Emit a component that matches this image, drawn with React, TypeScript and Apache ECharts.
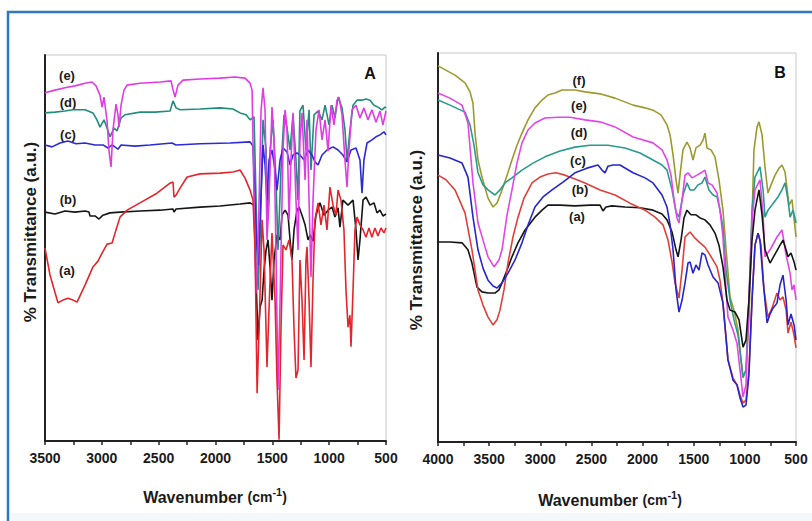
import React, { useEffect, useRef } from "react";
import * as echarts from "echarts";

type P = [number, number];

// ---------- Panel A (3500–500 cm-1) ----------
const ticksA = [3500, 3000, 2500, 2000, 1500, 1000, 500];
const labelsA = ["(a)", "(b)", "(c)", "(d)", "(e)"];

const A_a: P[] = [
  [3500, 50.0], [3456, 43.0], [3386, 35.8], [3342, 36.5], [3298, 37.0], [3254, 36.5], [3218, 36.0],
  [3148, 40.4], [3078, 45.1], [3034, 46.6], [2998, 48.7], [2954, 51.0], [2910, 51.3], [2875, 54.7],
  [2840, 58.0], [2778, 59.8], [2664, 61.7], [2515, 64.2], [2400, 66.8], [2374, 67.1], [2365, 63.2],
  [2347, 63.7], [2312, 65.5], [2250, 68.4], [2136, 69.2], [1960, 69.4], [1846, 69.7], [1784, 70.2],
  [1740, 68.1], [1696, 65.0], [1670, 62.4], [1652, 49.5], [1634, 12.4], [1617, 28.8], [1590, 57.3],
  [1573, 49.5], [1547, 19.2], [1520, 41.7], [1503, 53.9], [1476, 36.5], [1459, 15.8], [1441, 0.3],
  [1424, 28.8], [1406, 50.8], [1380, 49.5], [1353, 52.1], [1327, 46.9], [1309, 28.8], [1292, 16.3],
  [1274, 18.4], [1257, 46.9], [1239, 36.5], [1221, 21.0], [1204, 46.9], [1195, 50.3], [1177, 36.5],
  [1160, 19.2], [1142, 41.7], [1125, 57.3], [1098, 61.7], [1072, 56.0], [1045, 61.1], [1019, 54.7],
  [993, 65.8], [966, 61.1], [940, 58.5], [922, 65.0], [896, 62.4], [870, 54.7], [852, 39.1],
  [834, 29.5], [817, 32.6], [808, 24.4], [790, 39.1], [773, 54.7], [755, 58.0], [729, 56.0],
  [702, 54.7], [676, 52.8], [650, 55.2], [624, 52.8], [597, 55.2], [571, 53.1], [544, 55.2],
  [518, 53.9], [500, 55.2],
];

const A_b: P[] = [
  [3500, 59.3], [3412, 58.8], [3324, 59.6], [3236, 59.3], [3148, 59.6], [3113, 59.3], [3104, 58.3],
  [3060, 58.3], [3025, 57.5], [2990, 58.5], [2928, 59.1], [2840, 59.3], [2664, 59.6], [2488, 59.8],
  [2374, 60.1], [2365, 59.3], [2347, 60.1], [2136, 60.6], [1960, 60.9], [1784, 61.4], [1696, 61.7],
  [1661, 61.1], [1643, 41.7], [1626, 26.2], [1608, 34.7], [1590, 36.5], [1573, 44.3], [1555, 49.5],
  [1538, 52.1], [1520, 45.1], [1503, 36.5], [1485, 46.9], [1459, 53.4], [1432, 52.1], [1415, 58.5],
  [1388, 59.8], [1362, 58.5], [1344, 52.1], [1327, 46.9], [1309, 54.7], [1283, 59.8], [1265, 60.6],
  [1239, 58.5], [1212, 56.0], [1186, 52.1], [1168, 53.4], [1142, 51.8], [1116, 58.5], [1081, 61.7],
  [1045, 58.5], [1010, 59.8], [975, 60.6], [949, 58.0], [922, 60.4], [905, 55.4], [879, 62.4],
  [834, 61.1], [790, 62.4], [764, 54.7], [746, 46.9], [729, 52.1], [702, 62.4], [676, 63.2],
  [641, 61.1], [606, 61.7], [579, 59.1], [553, 59.8], [527, 58.3], [500, 58.8],
];

const A_c: P[] = [
  [3500, 76.7], [3438, 76.2], [3368, 77.2], [3298, 77.7], [3227, 77.0], [3148, 77.2], [3060, 76.7],
  [2990, 76.7], [2946, 75.9], [2910, 76.7], [2858, 75.6], [2831, 76.7], [2708, 76.4], [2576, 76.7],
  [2383, 77.2], [2347, 76.7], [2136, 77.0], [1872, 77.2], [1696, 77.5], [1670, 76.4], [1643, 54.7],
  [1626, 45.6], [1608, 57.3], [1582, 76.7], [1564, 71.5], [1547, 62.4], [1529, 72.8], [1503, 75.4],
  [1476, 70.2], [1459, 65.0], [1432, 72.8], [1406, 75.9], [1371, 74.9], [1344, 71.5], [1318, 74.1],
  [1283, 74.6], [1257, 74.1], [1221, 72.8], [1186, 75.4], [1151, 74.1], [1125, 72.3], [1098, 71.5],
  [1063, 74.1], [1019, 75.4], [966, 76.2], [922, 75.4], [879, 74.1], [843, 72.3], [808, 75.4],
  [764, 75.9], [729, 72.8], [711, 64.2], [694, 72.8], [667, 77.2], [624, 78.0], [588, 78.8],
  [553, 79.3], [518, 80.1], [500, 79.3],
];

const A_d: P[] = [
  [3500, 85.0], [3412, 85.2], [3324, 85.5], [3254, 85.8], [3148, 85.8], [3078, 85.0], [3043, 83.2],
  [3016, 81.3], [2981, 83.2], [2954, 81.1], [2928, 78.8], [2893, 81.1], [2866, 80.3], [2831, 83.7],
  [2796, 84.5], [2664, 85.2], [2532, 85.2], [2400, 85.5], [2374, 88.1], [2347, 86.3], [2312, 85.8],
  [2136, 86.0], [1960, 86.3], [1846, 86.0], [1784, 85.0], [1731, 84.5], [1696, 83.2], [1661, 84.0],
  [1643, 62.4], [1626, 39.1], [1608, 52.1], [1582, 83.2], [1555, 75.4], [1538, 57.3], [1520, 75.4],
  [1494, 83.2], [1468, 67.6], [1450, 49.5], [1424, 70.2], [1397, 84.5], [1371, 81.1], [1344, 75.4],
  [1318, 84.5], [1292, 72.8], [1274, 62.4], [1257, 85.5], [1230, 87.0], [1204, 75.4], [1177, 85.8],
  [1160, 70.2], [1133, 84.5], [1098, 85.5], [1063, 83.2], [1036, 87.0], [1001, 81.9], [975, 87.0],
  [949, 83.7], [922, 89.1], [887, 86.3], [861, 80.6], [843, 72.8], [817, 80.6], [790, 87.0],
  [755, 88.3], [711, 88.3], [676, 88.6], [641, 88.3], [606, 87.0], [571, 86.5], [536, 85.8],
  [509, 86.5], [500, 86.3],
];

const A_e: P[] = [
  [3500, 90.2], [3412, 90.9], [3324, 91.5], [3236, 92.0], [3148, 92.7], [3087, 93.0], [3051, 92.0],
  [3016, 89.6], [2998, 86.5], [2981, 89.1], [2954, 82.9], [2937, 75.1], [2919, 71.0], [2902, 80.6],
  [2875, 87.3], [2858, 84.5], [2849, 81.3], [2831, 87.0], [2805, 90.9], [2778, 92.2], [2664, 92.7],
  [2488, 93.0], [2391, 93.3], [2374, 91.0], [2356, 89.1], [2330, 92.2], [2286, 93.5], [2136, 93.8],
  [1960, 94.0], [1828, 94.3], [1740, 94.0], [1696, 92.7], [1678, 90.9], [1661, 62.4], [1643, 38.3],
  [1626, 49.5], [1599, 85.8], [1582, 91.5], [1564, 85.8], [1547, 52.1], [1529, 62.4], [1503, 86.5],
  [1485, 78.0], [1468, 49.5], [1450, 13.2], [1432, 36.5], [1406, 75.4], [1388, 85.8], [1371, 81.1],
  [1353, 57.3], [1336, 72.8], [1318, 85.0], [1292, 62.4], [1274, 49.5], [1257, 78.0], [1239, 85.0],
  [1212, 67.6], [1195, 83.2], [1177, 62.4], [1160, 42.5], [1142, 62.4], [1116, 80.6], [1089, 85.8],
  [1063, 78.0], [1036, 83.2], [1010, 75.1], [984, 87.0], [957, 81.9], [931, 88.3], [913, 89.1],
  [887, 84.5], [861, 72.8], [843, 65.8], [826, 75.4], [799, 85.8], [764, 87.0], [729, 83.7],
  [694, 86.3], [659, 83.2], [624, 85.8], [588, 82.6], [553, 85.5], [527, 81.9], [500, 85.5],
];

// ---------- Panel B (4000–500 cm-1) ----------
const ticksB = [4000, 3500, 3000, 2500, 2000, 1500, 1000, 500];
const labelsB = ["(a)", "(b)", "(c)", "(d)", "(e)", "(f)"];

const B_a: P[] = [
  [4000, 51.4], [3883, 51.4], [3765, 51.2], [3707, 49.4], [3668, 46.0], [3619, 39.8], [3570, 38.6],
  [3511, 38.3], [3443, 38.3], [3404, 39.1], [3374, 40.9], [3325, 44.2], [3277, 47.6], [3218, 51.2],
  [3149, 54.5], [3052, 57.8], [2983, 59.6], [2925, 60.9], [2807, 60.9], [2661, 60.7], [2514, 60.9],
  [2416, 60.9], [2387, 59.4], [2358, 60.4], [2299, 60.7], [2172, 60.4], [2025, 60.2], [1898, 59.6],
  [1810, 58.6], [1761, 57.1], [1712, 54.0], [1673, 49.4], [1653, 47.6], [1624, 51.9], [1595, 57.6],
  [1566, 59.6], [1527, 58.4], [1478, 58.4], [1438, 57.6], [1390, 57.1], [1341, 55.8], [1292, 53.7],
  [1253, 50.6], [1214, 45.0], [1175, 36.5], [1145, 33.9], [1096, 33.4], [1057, 31.4], [1018, 24.4],
  [989, 26.2], [960, 36.5], [930, 51.9], [901, 59.6], [862, 64.8], [832, 58.4], [803, 49.4],
  [754, 46.0], [705, 48.3], [656, 50.6], [627, 51.9], [597, 49.4], [578, 47.6], [549, 48.6],
  [519, 46.3], [500, 44.2],
];

const B_b: P[] = [
  [4000, 68.6], [3922, 67.4], [3834, 64.8], [3736, 58.9], [3668, 49.4], [3609, 39.1], [3560, 35.2],
  [3511, 32.1], [3462, 30.1], [3423, 31.4], [3394, 33.9], [3355, 39.1], [3316, 46.0], [3267, 52.7],
  [3218, 57.8], [3159, 62.7], [3081, 66.6], [3003, 68.1], [2925, 68.9], [2847, 69.2], [2759, 68.6],
  [2661, 67.6], [2563, 66.6], [2416, 64.8], [2269, 63.5], [2123, 61.4], [1976, 59.6], [1878, 57.8],
  [1800, 55.8], [1751, 51.9], [1712, 46.3], [1683, 40.9], [1644, 37.0], [1614, 44.2], [1585, 52.7],
  [1536, 54.0], [1487, 52.4], [1438, 51.2], [1390, 50.1], [1341, 48.1], [1272, 45.0], [1243, 41.6],
  [1214, 35.7], [1165, 21.1], [1116, 16.5], [1077, 14.7], [1047, 12.1], [1018, 10.0], [989, 10.8],
  [960, 18.5], [930, 36.5], [901, 50.6], [871, 53.7], [842, 50.6], [813, 39.1], [774, 32.1],
  [735, 34.4], [686, 38.3], [656, 36.5], [627, 37.3], [597, 33.9], [578, 28.0], [549, 30.8],
  [519, 27.5], [500, 24.2],
];

const B_c: P[] = [
  [4000, 73.8], [3883, 73.0], [3765, 71.7], [3707, 68.1], [3658, 57.8], [3609, 49.4], [3560, 44.7],
  [3511, 41.6], [3462, 40.1], [3423, 39.6], [3374, 40.9], [3316, 43.4], [3247, 46.8], [3179, 51.2],
  [3120, 55.8], [3052, 60.4], [2973, 63.0], [2885, 64.8], [2778, 66.8], [2661, 69.2], [2544, 70.4],
  [2436, 71.2], [2397, 69.9], [2367, 69.2], [2338, 70.9], [2289, 71.2], [2221, 71.2], [2093, 69.2],
  [1976, 67.9], [1898, 66.6], [1810, 63.5], [1761, 60.4], [1731, 55.8], [1702, 49.4], [1673, 39.1],
  [1644, 33.4], [1614, 36.5], [1585, 40.9], [1556, 46.0], [1536, 46.3], [1507, 43.4], [1478, 45.5],
  [1448, 44.2], [1419, 48.6], [1390, 48.1], [1360, 45.5], [1311, 42.4], [1262, 40.9], [1214, 35.7],
  [1165, 21.1], [1116, 15.9], [1077, 14.7], [1047, 11.3], [1018, 9.0], [989, 9.5], [960, 17.2],
  [930, 36.5], [901, 50.6], [871, 53.7], [852, 51.9], [822, 41.6], [783, 30.6], [754, 32.9],
  [725, 34.4], [686, 35.7], [656, 40.4], [627, 42.9], [597, 36.5], [578, 30.1], [549, 32.9],
  [519, 30.1], [500, 26.2],
];

const B_d: P[] = [
  [4000, 87.9], [3883, 86.6], [3736, 84.8], [3687, 81.5], [3648, 76.3], [3609, 69.2], [3560, 66.1],
  [3511, 64.8], [3443, 63.5], [3394, 64.8], [3345, 66.6], [3277, 67.9], [3179, 69.9], [3071, 71.7],
  [2954, 73.3], [2807, 74.8], [2661, 75.8], [2514, 76.3], [2338, 76.3], [2172, 75.6], [2025, 74.3],
  [1898, 72.5], [1810, 71.2], [1761, 69.9], [1712, 64.8], [1673, 59.1], [1644, 57.8], [1605, 63.5],
  [1566, 66.6], [1536, 64.8], [1497, 64.8], [1458, 66.1], [1419, 66.6], [1390, 68.1], [1351, 64.8],
  [1311, 63.5], [1272, 63.0], [1243, 59.6], [1214, 55.3], [1184, 44.2], [1145, 36.5], [1106, 31.4],
  [1067, 27.5], [1018, 16.7], [989, 18.5], [960, 36.5], [930, 59.6], [901, 68.1], [852, 70.7],
  [822, 64.8], [803, 57.8], [774, 59.6], [735, 60.9], [676, 63.0], [637, 64.8], [607, 66.6],
  [578, 62.2], [558, 57.8], [529, 59.6], [500, 56.3],
];

const B_e: P[] = [
  [4000, 89.7], [3883, 88.4], [3765, 86.6], [3707, 82.0], [3658, 66.6], [3609, 56.3], [3560, 51.9],
  [3511, 47.6], [3452, 45.0], [3404, 46.8], [3374, 49.4], [3325, 58.4], [3277, 64.8], [3228, 71.7],
  [3179, 76.9], [3120, 80.2], [3052, 82.0], [2954, 83.3], [2827, 83.5], [2710, 83.5], [2563, 82.8],
  [2416, 82.3], [2269, 81.0], [2093, 78.4], [1898, 76.9], [1810, 75.1], [1761, 72.5], [1722, 68.6],
  [1692, 62.2], [1663, 57.6], [1644, 56.3], [1614, 62.2], [1585, 68.6], [1556, 69.2], [1517, 67.9],
  [1468, 68.6], [1429, 69.2], [1390, 69.9], [1360, 66.6], [1321, 66.1], [1272, 64.0], [1243, 59.6],
  [1214, 52.7], [1184, 39.1], [1165, 32.1], [1116, 28.8], [1077, 25.4], [1047, 18.5], [1018, 11.6],
  [989, 14.7], [960, 36.5], [930, 57.1], [901, 64.8], [852, 67.4], [822, 58.4], [803, 47.6],
  [754, 49.4], [686, 52.7], [637, 54.5], [597, 48.1], [558, 43.4], [539, 39.1], [519, 40.4],
  [500, 36.5],
];

const B_f: P[] = [
  [4000, 96.7], [3834, 94.3], [3736, 92.3], [3687, 90.0], [3658, 87.1], [3638, 79.4], [3609, 72.5],
  [3570, 68.1], [3511, 62.7], [3462, 60.4], [3423, 61.4], [3374, 64.8], [3325, 68.6], [3277, 72.5],
  [3228, 76.3], [3179, 79.4], [3120, 82.8], [3052, 85.9], [2983, 87.9], [2925, 89.2], [2856, 89.7],
  [2788, 90.5], [2661, 90.5], [2563, 90.0], [2416, 89.5], [2269, 88.4], [2093, 86.6], [1976, 85.9],
  [1898, 85.3], [1820, 84.1], [1761, 81.5], [1731, 78.9], [1702, 73.8], [1673, 67.4], [1653, 64.0],
  [1634, 68.6], [1605, 75.1], [1566, 77.1], [1536, 75.6], [1507, 72.5], [1478, 75.6], [1438, 76.3],
  [1409, 77.6], [1390, 79.4], [1370, 75.6], [1331, 75.1], [1292, 73.3], [1253, 67.4], [1214, 59.6],
  [1175, 46.8], [1145, 37.3], [1106, 33.9], [1067, 28.8], [1018, 16.5], [989, 18.5], [960, 31.4],
  [930, 57.1], [911, 75.1], [881, 81.0], [862, 82.3], [832, 79.0], [803, 70.7], [774, 64.0],
  [744, 66.1], [705, 68.6], [666, 70.4], [637, 71.2], [607, 69.4], [568, 60.9], [539, 62.3],
  [500, 52.7],
];

const colorsA = { a: "#e3262c", b: "#151515", c: "#2b2bd6", d: "#1f8c7c", e: "#e03ce4" };
const colorsB = { a: "#151515", b: "#e0403a", c: "#2626cc", d: "#2a9a8c", e: "#e246e6", f: "#9c9a2e" };

const FONT = "'Liberation Sans', Arial, sans-serif";
const NARROW = "'Liberation Sans Narrow', 'Arial Narrow', 'Liberation Sans', Arial, sans-serif";

function lineSeries(name: string, data: P[], color: string, idx: number) {
  return {
    type: "line",
    name,
    data,
    xAxisIndex: idx,
    yAxisIndex: idx,
    showSymbol: false,
    symbol: "none",
    lineStyle: { color, width: 1.6 },
    itemStyle: { color },
    silent: true,
  };
}

function xAxis(idx: number, min: number, max: number, ticks: number[]) {
  return {
    type: "value",
    gridIndex: idx,
    min,
    max,
    interval: 250,
    inverse: true,
    axisLine: { show: true, onZero: false, lineStyle: { color: "#222", width: 2 } },
    axisTick: { show: true, length: 4, inside: false, lineStyle: { color: "#222", width: 1.5 } },
    axisLabel: {
      margin: 10,
      fontFamily: FONT,
      fontWeight: "bold",
      fontSize: 14,
      color: "#1a1a1a",
      formatter: (v: number) => (ticks.indexOf(v) >= 0 ? String(v) : ""),
    },
    splitLine: { show: false },
  };
}

function yAxis(idx: number) {
  return {
    type: "value",
    gridIndex: idx,
    min: 0,
    max: 100,
    axisLine: { show: true, onZero: false, lineStyle: { color: "#222", width: 2 } },
    axisTick: { show: false },
    axisLabel: { show: false },
    splitLine: { show: false },
  };
}

function wnTitle(x: number, y: number) {
  return {
    type: "text",
    x,
    y,
    style: {
      text: "{w|Wavenumber }{p|(cm}{s|-1}{p|)}",
      align: "center",
      verticalAlign: "middle",
      fill: "#1a1a1a",
      rich: {
        w: { fontFamily: FONT, fontWeight: "bold", fontSize: 16, lineHeight: 22, fill: "#1a1a1a" },
        p: { fontFamily: FONT, fontWeight: "bold", fontSize: 14, lineHeight: 22, fill: "#1a1a1a" },
        s: { fontFamily: FONT, fontWeight: "bold", fontSize: 11, lineHeight: 11, verticalAlign: "top", fill: "#1a1a1a" },
      },
    },
  };
}

function yTitle(x: number, y: number) {
  return {
    type: "text",
    x,
    y,
    rotation: Math.PI / 2,
    style: {
      text: "% Transmittance (a.u.)",
      align: "center",
      verticalAlign: "middle",
      fontFamily: FONT,
      fontWeight: "bold",
      fontSize: 17,
      fill: "#1a1a1a",
    },
  };
}

function curveLabel(text: string, x: number, y: number) {
  return {
    type: "text",
    x,
    y,
    style: {
      text,
      align: "center",
      verticalAlign: "middle",
      fontFamily: NARROW,
      fontWeight: "bold",
      fontSize: 13,
      fill: "#1a1a1a",
    },
  };
}

export default function App() {
  const ref = useRef<HTMLDivElement>(null);
  useEffect(() => {
    if (!ref.current) return;
    const chart = echarts.init(ref.current, undefined, { renderer: "svg" });
    const posA: [number, number][] = [[67, 270], [68, 199], [68, 134], [68, 102], [67, 75]];
    const posB: [number, number][] = [[577, 216], [580, 189], [578, 160], [579, 132], [579, 105], [579, 80]];
    chart.setOption({
      animation: false,
      backgroundColor: "#ffffff",
      grid: [
        { left: 45, top: 55, width: 341, height: 386, show: true, borderColor: "#c8c8c8", borderWidth: 1, backgroundColor: "#ffffff" },
        { left: 438, top: 53, width: 358, height: 389, show: true, borderColor: "#c8c8c8", borderWidth: 1, backgroundColor: "#ffffff" },
      ],
      xAxis: [xAxis(0, 500, 3500, ticksA), xAxis(1, 500, 4000, ticksB)],
      yAxis: [yAxis(0), yAxis(1)],
      series: [
        lineSeries("A (b)", A_b, colorsA.b, 0),
        lineSeries("A (d)", A_d, colorsA.d, 0),
        lineSeries("A (c)", A_c, colorsA.c, 0),
        lineSeries("A (e)", A_e, colorsA.e, 0),
        lineSeries("A (a)", A_a, colorsA.a, 0),
        lineSeries("B (f)", B_f, colorsB.f, 1),
        lineSeries("B (d)", B_d, colorsB.d, 1),
        lineSeries("B (e)", B_e, colorsB.e, 1),
        lineSeries("B (a)", B_a, colorsB.a, 1),
        lineSeries("B (b)", B_b, colorsB.b, 1),
        lineSeries("B (c)", B_c, colorsB.c, 1),
      ],
      graphic: [
        {
          type: "rect",
          z: -10,
          shape: { x: 8, y: 12, width: 830, height: 540 },
          style: { fill: "#ffffff", stroke: "#2f78bd", lineWidth: 2.5 },
        },
        {
          type: "rect",
          z: -9,
          shape: { x: 10, y: 513, width: 820, height: 30 },
          style: { fill: "#f3f9fb" },
        },
        yTitle(30, 232),
        yTitle(416, 240),
        wnTitle(215, 497),
        wnTitle(610, 500),
        { type: "text", x: 370, y: 73, style: { text: "A", align: "center", verticalAlign: "middle", fontFamily: FONT, fontWeight: "bold", fontSize: 16, fill: "#111" } },
        { type: "text", x: 780, y: 72, style: { text: "B", align: "center", verticalAlign: "middle", fontFamily: FONT, fontWeight: "bold", fontSize: 16, fill: "#111" } },
        ...labelsA.map((t, i) => curveLabel(t, posA[i][0], posA[i][1])),
        ...labelsB.map((t, i) => curveLabel(t, posB[i][0], posB[i][1])),
      ],
    });
    return () => chart.dispose();
  }, []);
  return <div ref={ref} style={{ position: "fixed", left: 0, top: 0, width: 812, height: 521 }} />;
}
